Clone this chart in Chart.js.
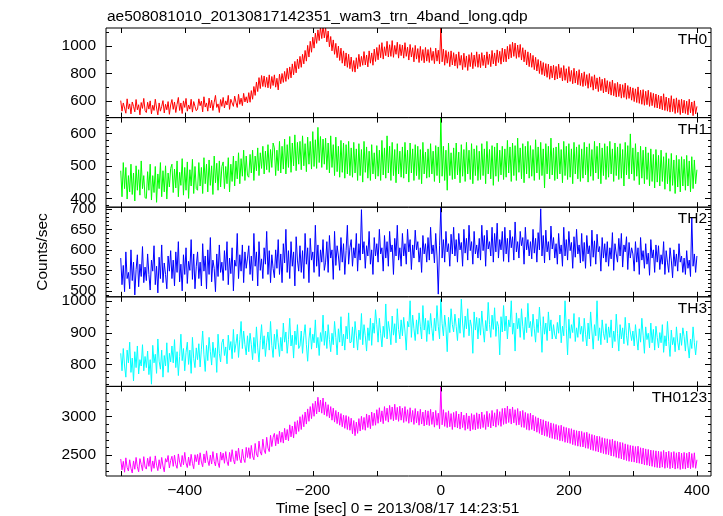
<!DOCTYPE html>
<html>
<head>
<meta charset="utf-8">
<script src="https://cdn.jsdelivr.net/npm/chart.js@4.4.1/dist/chart.umd.min.js"></script>
<style>
  html, body { margin: 0; padding: 0; background: #fff; }
  canvas { display: block; }
</style>
</head>
<body>
<canvas id="curva-luz" width="723" height="516"></canvas>
<script>
// curva de luz WAM, 4 bandas + soma, bins de 2 s
const TITULO   = "ae508081010_20130817142351_wam3_trn_4band_long.qdp";
const TITULO_X = "Time [sec] 0 = 2013/08/17 14:23:51";
const TITULO_Y = "Counts/sec";

const T_INICIO = -500;   // s
const T_PASSO  = 2;      // s

const th0 = [
  602, 525, 585, 548, 510, 615, 540, 578, 505, 592, 560, 520, 610, 535, 572, 498, 588, 545, 618, 530,
  515, 590, 540, 600, 505, 568, 530, 612, 548, 498, 585, 525, 560, 602, 512, 575, 535, 595, 502, 570,
  610, 538, 592, 515, 575, 625, 530, 585, 508, 600, 552, 618, 525, 570, 540, 612, 518, 595, 560, 528,
  540, 615, 565, 598, 520, 630, 555, 585, 525, 620, 548, 605, 530, 590, 640, 552, 578, 515, 610, 560,
  625, 548, 600, 570, 640, 538, 612, 585, 560, 635, 590, 552, 648, 575, 620, 565, 655, 592, 630, 585,
  660, 590, 675, 612, 705, 640, 738, 668, 770, 690, 785, 705, 782, 700, 772, 695, 790, 690, 778, 712,
  790, 700, 765, 680, 795, 725, 800, 735, 815, 742, 838, 758, 848, 768, 870, 790, 888, 805, 905, 835,
  925, 845, 940, 870, 968, 890, 1005, 920, 1035, 955, 1065, 985, 1095, 1020, 1118, 1040, 1140, 1055, 1150, 1060,
  1135, 1030, 1110, 995, 1070, 965, 1045, 940, 1020, 915, 1000, 895, 985, 875, 965, 855, 950, 845, 940, 835,
  920, 815, 895, 810, 915, 835, 940, 850, 925, 860, 960, 862, 935, 848, 965, 875, 950, 860, 978, 888,
  990, 900, 1010, 915, 1025, 905, 995, 930, 1035, 920, 1010, 925, 1040, 918, 1005, 940, 1028, 912, 1012, 930,
  1008, 912, 1025, 925, 992, 898, 1012, 920, 988, 885, 1005, 905, 982, 880, 998, 895, 975, 878, 990, 890,
  975, 880, 988, 895, 962, 872, 985, 890, 970, 870, 1140, 885, 978, 860, 968, 875, 958, 850, 965, 862,
  952, 855, 940, 838, 958, 860, 932, 828, 948, 845, 928, 822, 938, 850, 952, 835, 935, 852, 958, 845,
  940, 842, 952, 858, 935, 840, 958, 865, 942, 850, 968, 870, 950, 855, 972, 880, 962, 868, 985, 885,
  978, 885, 998, 905, 1012, 915, 1028, 925, 1022, 910, 1008, 918, 1012, 898, 988, 885, 972, 862, 958, 850,
  948, 845, 932, 828, 918, 818, 902, 800, 892, 792, 880, 782, 872, 772, 868, 758, 855, 768, 860, 752,
  852, 760, 868, 768, 842, 745, 858, 750, 835, 732, 850, 742, 822, 725, 838, 730, 818, 718, 828, 712,
  802, 705, 812, 712, 792, 692, 800, 700, 778, 678, 790, 688, 768, 668, 775, 675, 758, 658, 765, 665,
  748, 650, 740, 642, 752, 638, 728, 628, 735, 632, 722, 620, 718, 625, 730, 612, 712, 618, 702, 605,
  695, 595, 688, 588, 702, 582, 678, 575, 682, 568, 670, 572, 678, 560, 662, 565, 655, 552, 650, 548,
  642, 542, 635, 535, 652, 530, 628, 525, 620, 518, 638, 522, 615, 508, 622, 515, 608, 500, 612, 512,
  605, 508, 598, 498, 612, 512, 592, 492, 600, 505, 560,
];

const th1 = [
  485, 405, 510, 430, 495, 398, 470, 420, 505, 412, 478, 392, 500, 425, 488, 410, 515, 430, 470, 402,
  400, 482, 425, 505, 395, 470, 418, 498, 388, 475, 430, 510, 405, 485, 420, 500, 398, 478, 435, 492,
  505, 418, 490, 432, 515, 405, 480, 440, 522, 410, 495, 425, 512, 400, 488, 438, 520, 415, 498, 430,
  425, 510, 438, 495, 415, 525, 445, 505, 420, 518, 440, 500, 412, 530, 448, 508, 425, 515, 435, 498,
  512, 430, 498, 445, 525, 420, 505, 452, 530, 438, 515, 460, 540, 445, 522, 468, 548, 455, 530, 470,
  465, 535, 478, 548, 455, 530, 485, 555, 470, 540, 492, 560, 475, 545, 488, 565, 480, 550, 495, 570,
  555, 470, 548, 485, 575, 478, 560, 490, 582, 475, 565, 495, 590, 480, 570, 500, 595, 485, 572, 505,
  575, 488, 592, 500, 568, 482, 588, 505, 575, 490, 605, 498, 580, 492, 618, 510, 590, 495, 582, 505,
  585, 488, 570, 478, 592, 495, 565, 470, 588, 482, 560, 465, 578, 480, 570, 462, 565, 475, 575, 470,
  555, 465, 572, 478, 552, 455, 568, 470, 550, 450, 575, 480, 558, 462, 545, 455, 565, 475, 540, 460,
  562, 468, 548, 455, 578, 472, 555, 462, 592, 478, 560, 455, 572, 470, 550, 448, 568, 475, 545, 465,
  558, 462, 572, 475, 548, 450, 570, 478, 552, 455, 565, 470, 560, 458, 550, 445, 572, 475, 542, 462,
  552, 465, 568, 475, 545, 452, 562, 470, 558, 448, 650, 468, 560, 455, 548, 425, 570, 470, 540, 458,
  555, 460, 570, 472, 542, 448, 565, 468, 550, 452, 572, 475, 548, 458, 568, 445, 552, 470, 562, 455,
  545, 458, 568, 470, 552, 445, 575, 475, 550, 460, 562, 440, 558, 468, 570, 452, 548, 472, 560, 458,
  552, 465, 578, 478, 558, 452, 570, 470, 562, 455, 585, 480, 555, 460, 568, 448, 560, 475, 575, 462,
  562, 468, 550, 455, 580, 478, 558, 458, 572, 470, 552, 432, 568, 475, 560, 460, 585, 472, 555, 455,
  558, 460, 570, 475, 550, 448, 575, 470, 560, 458, 568, 465, 552, 445, 572, 475, 558, 460, 565, 452,
  552, 462, 572, 472, 558, 450, 568, 468, 550, 455, 575, 478, 560, 460, 570, 445, 555, 470, 568, 458,
  560, 465, 575, 475, 552, 452, 570, 470, 558, 458, 568, 462, 550, 438, 572, 472, 562, 460, 598, 475,
  555, 455, 568, 468, 542, 442, 560, 462, 548, 445, 558, 458, 540, 438, 552, 452, 535, 432, 550, 450,
  532, 438, 548, 452, 528, 428, 540, 445, 522, 422, 538, 440, 518, 415, 532, 435, 520, 420, 528, 438,
  520, 425, 532, 438, 515, 420, 528, 430, 518, 445, 488,
];

const th2 = [
  580, 515, 562, 498, 595, 530, 545, 505, 600, 525, 570, 490, 552, 588, 510, 565, 535, 608, 520, 558,
  525, 590, 540, 502, 575, 548, 610, 515, 560, 495, 582, 530, 612, 520, 568, 540, 505, 585, 548, 598,
  530, 575, 512, 595, 545, 620, 522, 565, 500, 588, 540, 605, 518, 572, 550, 625, 528, 590, 505, 560,
  595, 530, 570, 512, 615, 548, 585, 505, 600, 540, 630, 522, 575, 555, 498, 590, 535, 612, 545, 570,
  525, 598, 550, 620, 515, 580, 542, 605, 500, 575, 560, 640, 530, 588, 548, 612, 520, 595, 555, 580,
  610, 540, 585, 525, 640, 560, 595, 512, 620, 550, 578, 530, 605, 565, 645, 540, 598, 520, 588, 555,
  532, 600, 555, 625, 540, 590, 520, 615, 568, 650, 545, 598, 530, 620, 560, 595, 512, 632, 575, 548,
  610, 545, 598, 530, 640, 565, 605, 520, 628, 575, 595, 545, 660, 560, 612, 535, 600, 570, 625, 550,
  570, 620, 545, 635, 580, 600, 528, 645, 562, 610, 585, 550, 630, 570, 615, 540, 598, 660, 565, 605,
  625, 560, 605, 580, 640, 548, 615, 575, 698, 590, 620, 555, 610, 585, 645, 565, 600, 540, 630, 585,
  615, 570, 650, 590, 605, 548, 635, 580, 620, 560, 645, 595, 612, 540, 628, 585, 660, 575, 605, 560,
  640, 585, 615, 565, 650, 595, 625, 552, 612, 580, 648, 600, 620, 570, 605, 545, 635, 590, 615, 570,
  630, 575, 655, 590, 612, 568, 640, 585, 492, 610, 705, 580, 625, 570, 645, 595, 615, 560, 638, 590,
  655, 585, 625, 570, 640, 600, 618, 560, 650, 592, 628, 575, 660, 598, 620, 565, 645, 590, 612, 580,
  628, 575, 660, 598, 635, 560, 648, 602, 620, 585, 655, 570, 640, 595, 665, 580, 625, 600, 645, 572,
  655, 590, 628, 570, 648, 605, 632, 575, 668, 595, 620, 580, 645, 610, 630, 565, 655, 600, 625, 585,
  620, 578, 650, 592, 628, 570, 642, 600, 700, 585, 635, 568, 648, 595, 620, 575, 658, 602, 630, 580,
  615, 565, 640, 590, 612, 560, 655, 585, 625, 575, 645, 598, 618, 555, 632, 582, 650, 590, 612, 568,
  640, 572, 618, 555, 635, 590, 610, 560, 648, 582, 622, 565, 638, 595, 608, 548, 630, 580, 615, 570,
  620, 560, 605, 578, 642, 550, 615, 590, 570, 628, 585, 640, 558, 612, 595, 632, 552, 618, 580, 605,
  590, 548, 620, 570, 605, 540, 630, 575, 598, 555, 615, 565, 592, 538, 625, 580, 600, 545, 612, 570,
  610, 552, 588, 565, 620, 540, 598, 570, 545, 605, 575, 532, 600, 560, 590, 548, 615, 570, 585, 545,
  580, 540, 598, 555, 575, 535, 680, 560, 590, 545, 585,
];

const th3 = [
  835, 780, 850, 795, 760, 845, 805, 870, 775, 820, 748, 840, 790, 858, 770, 815, 795, 862, 780, 825,
  790, 842, 768, 815, 738, 860, 805, 832, 772, 880, 810, 785, 845, 760, 828, 795, 868, 775, 835, 808,
  858, 805, 878, 790, 840, 765, 825, 895, 812, 850, 780, 838, 870, 800, 845, 772, 885, 818, 790, 852,
  815, 865, 792, 848, 905, 830, 778, 860, 812, 885, 840, 798, 870, 822, 852, 775, 895, 835, 808, 868,
  880, 828, 855, 802, 892, 845, 872, 818, 910, 838, 865, 895, 822, 878, 935, 850, 905, 862, 830, 890,
  840, 898, 862, 815, 885, 835, 918, 852, 808, 875, 925, 848, 890, 825, 870, 902, 845, 935, 860, 822,
  895, 848, 910, 868, 825, 885, 842, 930, 870, 902, 835, 878, 945, 858, 892, 820, 905, 862, 925, 850,
  858, 905, 835, 890, 925, 862, 810, 880, 915, 848, 895, 868, 940, 852, 885, 828, 900, 872, 955, 860,
  905, 850, 925, 878, 840, 898, 862, 935, 885, 830, 912, 870, 950, 858, 895, 845, 920, 880, 962, 868,
  870, 918, 852, 935, 892, 845, 908, 878, 960, 862, 925, 890, 842, 915, 875, 945, 860, 930, 898, 972,
  925, 870, 945, 898, 855, 920, 885, 990, 880, 935, 905, 862, 952, 892, 928, 868, 975, 910, 880, 940,
  890, 948, 905, 845, 935, 918, 1000, 885, 955, 912, 875, 940, 895, 962, 920, 880, 985, 908, 945, 872,
  938, 895, 960, 912, 875, 945, 905, 985, 920, 880, 1005, 928, 890, 955, 915, 840, 948, 900, 975, 925,
  902, 958, 920, 875, 945, 898, 1005, 930, 885, 952, 912, 975, 890, 940, 918, 835, 965, 908, 948, 880,
  945, 892, 968, 915, 870, 938, 905, 995, 925, 885, 955, 910, 978, 888, 935, 920, 830, 950, 902, 985,
  905, 952, 880, 940, 918, 1000, 895, 930, 842, 962, 912, 945, 885, 975, 920, 878, 948, 900, 992, 915,
  935, 888, 958, 912, 870, 942, 900, 980, 918, 838, 950, 895, 930, 875, 965, 905, 940, 880, 925, 892,
  880, 932, 898, 955, 868, 920, 890, 1000, 912, 830, 942, 882, 925, 900, 960, 872, 915, 885, 948, 895,
  920, 872, 945, 895, 858, 930, 880, 965, 905, 848, 925, 890, 1000, 875, 915, 862, 940, 898, 878, 928,
  868, 918, 885, 940, 852, 905, 872, 958, 898, 842, 925, 880, 915, 865, 948, 890, 860, 930, 902, 875,
  905, 858, 925, 880, 845, 912, 870, 945, 892, 835, 918, 878, 898, 852, 930, 868, 910, 845, 920, 885,
  852, 900, 868, 925, 838, 890, 858, 935, 872, 825, 908, 862, 885, 840, 918, 870, 845, 898, 860, 915,
  888, 842, 905, 858, 820, 880, 850, 918, 868, 830, 875,
];

const th0123 = [
  2450, 2310, 2420, 2280, 2465, 2340, 2295, 2440, 2330, 2270, 2425, 2318, 2470, 2350, 2285, 2455, 2380, 2300, 2480, 2345,
  2320, 2460, 2355, 2480, 2290, 2425, 2330, 2490, 2370, 2300, 2440, 2325, 2470, 2360, 2285, 2455, 2410, 2495, 2335, 2430,
  2485, 2355, 2500, 2380, 2330, 2515, 2410, 2350, 2495, 2375, 2535, 2400, 2340, 2475, 2365, 2510, 2395, 2325, 2505, 2415,
  2510, 2375, 2530, 2410, 2350, 2515, 2400, 2555, 2430, 2365, 2500, 2385, 2545, 2420, 2360, 2525, 2405, 2340, 2540, 2435,
  2525, 2395, 2545, 2420, 2365, 2535, 2415, 2570, 2445, 2385, 2555, 2430, 2590, 2450, 2400, 2575, 2455, 2405, 2600, 2470,
  2595, 2455, 2625, 2490, 2440, 2650, 2515, 2475, 2680, 2540, 2500, 2705, 2565, 2520, 2730, 2590, 2545, 2755, 2610, 2730,
  2780, 2620, 2765, 2645, 2810, 2665, 2795, 2655, 2845, 2695, 2830, 2685, 2890, 2735, 2875, 2720, 2930, 2770, 2945, 2805,
  2995, 2830, 3020, 2865, 3055, 2900, 3095, 2935, 3125, 2970, 3165, 3000, 3195, 3030, 3245, 3055, 3210, 3040, 3235, 3020,
  3185, 3000, 3150, 2980, 3125, 2950, 3105, 2925, 3075, 2905, 3055, 2885, 3035, 2865, 3015, 2845, 3010, 2830, 2995, 2820,
  2975, 2775, 2945, 2750, 2925, 2780, 2970, 2810, 3000, 2830, 2985, 2820, 3030, 2855, 3015, 2840, 3055, 2880, 3040, 2885,
  3085, 2910, 3110, 2930, 3070, 2905, 3125, 2945, 3105, 2925, 3140, 2960, 3120, 2940, 3155, 2955, 3115, 2935, 3130, 2950,
  3105, 2920, 3125, 2935, 3085, 2910, 3110, 2925, 3075, 2895, 3100, 2915, 3065, 2885, 3090, 2900, 3055, 2875, 3080, 2890,
  3070, 2880, 3090, 2895, 3055, 2860, 3075, 2885, 3040, 2840, 3380, 2890, 3085, 2870, 3050, 2855, 3070, 2865, 3035, 2830,
  3050, 2860, 3065, 2850, 3030, 2835, 3055, 2855, 3015, 2820, 3040, 2840, 3005, 2810, 3035, 2830, 3020, 2825, 3045, 2840,
  3030, 2840, 3055, 2855, 3020, 2830, 3065, 2865, 3035, 2850, 3075, 2875, 3045, 2860, 3090, 2885, 3060, 2870, 3100, 2895,
  3105, 2905, 3130, 2920, 3095, 2900, 3120, 2915, 3085, 2885, 3100, 2890, 3065, 2860, 3075, 2855, 3050, 2830, 3035, 2820,
  3040, 2830, 3015, 2810, 2995, 2795, 2980, 2780, 2965, 2760, 2955, 2750, 2940, 2740, 2930, 2725, 2915, 2715, 2905, 2705,
  2895, 2700, 2880, 2685, 2885, 2680, 2865, 2665, 2855, 2660, 2845, 2650, 2840, 2635, 2825, 2625, 2815, 2615, 2810, 2610,
  2805, 2605, 2790, 2590, 2795, 2585, 2775, 2570, 2765, 2560, 2755, 2550, 2745, 2540, 2740, 2530, 2725, 2520, 2715, 2510,
  2710, 2505, 2700, 2490, 2705, 2485, 2685, 2470, 2675, 2460, 2665, 2450, 2660, 2440, 2645, 2430, 2635, 2420, 2625, 2415,
  2620, 2410, 2610, 2400, 2615, 2395, 2595, 2385, 2590, 2375, 2580, 2370, 2573, 2360, 2565, 2355, 2560, 2345, 2555, 2340,
  2550, 2335, 2545, 2345, 2560, 2330, 2540, 2340, 2550, 2325, 2535, 2335, 2545, 2320, 2530, 2330, 2540, 2315, 2525, 2325,
  2535, 2320, 2525, 2335, 2540, 2325, 2520, 2340, 2530, 2330, 2440,
];

const FONTE = "'Liberation Sans', Arial, Helvetica, sans-serif";
const TAM = 15.5;

// painéis de cima para baixo
const paineis = [
  { id: "y0", nome: "TH0",    dados: th0,    cor: "#ff0000", min: 478,   max: 1132,   passo: 200, menor: 100 },
  { id: "y1", nome: "TH1",    dados: th1,    cor: "#00ff00", min: 373,   max: 648,    passo: 100, menor: 20 },
  { id: "y2", nome: "TH2",    dados: th2,    cor: "#0000ff", min: 485.5, max: 704,    passo: 50,  menor: 10 },
  { id: "y3", nome: "TH3",    dados: th3,    cor: "#00ffff", min: 731,   max: 1012.5, passo: 100, menor: 20 },
  { id: "y4", nome: "TH0123", dados: th0123, cor: "#ff00ff", min: 2231,  max: 3385,   passo: 500, menor: 100 },
];

const X_MIN = -523, X_MAX = 422, X_MARCA = 100, X_ROTULO = 200;

const menos = (v) => String(v).replace("-", "\u2212");

function multiplos(min, max, passo) {
  const out = [];
  for (let v = Math.ceil(min / passo) * passo; v <= max; v += passo) out.push(v);
  return out;
}

const escalas = {
  x: {
    type: "linear", position: "bottom", min: X_MIN, max: X_MAX,
    grid: { display: false, drawTicks: false }, border: { display: false },
    ticks: { autoSkip: false, maxRotation: 0, padding: 5,
             color: "#000", font: { family: FONTE, size: TAM }, callback: (v) => menos(v) },
    afterBuildTicks: (s) => { s.ticks = multiplos(X_MIN, X_MAX, X_ROTULO).map((value) => ({ value })); },
    afterFit: (s) => { s.height = 40; },
  },
};
// o layout empilha o último eixo declarado no topo
[...paineis].reverse().forEach((p) => {
  escalas[p.id] = {
    type: "linear", position: "left", stack: "paineis", stackWeight: 1, offset: false,
    min: p.min, max: p.max,
    grid: { display: false, drawTicks: false }, border: { display: false },
    ticks: { autoSkip: false, padding: 10,
             color: "#000", font: { family: FONTE, size: TAM }, callback: (v) => menos(v) },
    afterBuildTicks: (s) => { s.ticks = multiplos(p.min, p.max, p.passo).map((value) => ({ value })); },
    afterFit: (s) => { s.width = 106; },
  };
});

const molduras = {
  id: "molduras",
  afterDatasetsDraw(chart) {
    const { ctx } = chart;
    const xs = chart.scales.x;
    const l = xs.left, r = xs.right;
    ctx.save();
    ctx.strokeStyle = "#000";
    ctx.lineWidth = 1;
    ctx.beginPath();
    paineis.forEach((p) => {
      const ys = chart.scales[p.id];
      const t = ys.top, b = ys.bottom;
      ctx.moveTo(l, t); ctx.lineTo(r, t); ctx.lineTo(r, b); ctx.lineTo(l, b); ctx.closePath();
      multiplos(X_MIN, X_MAX, X_MARCA).forEach((v) => {
        const px = Math.round(xs.getPixelForValue(v)) + 0.5;
        ctx.moveTo(px, t); ctx.lineTo(px, t + 5);
        ctx.moveTo(px, b); ctx.lineTo(px, b - 5);
      });
      multiplos(p.min, p.max, p.menor).forEach((v) => {
        const py = Math.round(ys.getPixelForValue(v)) + 0.5;
        const len = v % p.passo === 0 ? 6 : 3;
        ctx.moveTo(l, py); ctx.lineTo(l + len, py);
        ctx.moveTo(r, py); ctx.lineTo(r - len, py);
      });
    });
    ctx.stroke();

    ctx.fillStyle = "#000";
    ctx.font = `${TAM}px ${FONTE}`;
    ctx.textBaseline = "alphabetic";
    ctx.textAlign = "right";
    paineis.forEach((p) => ctx.fillText(p.nome, r - 4, chart.scales[p.id].top + 16));
    ctx.textAlign = "left";
    ctx.fillText(TITULO, l + 1, 20.5);
    ctx.textAlign = "center";
    ctx.fillText(TITULO_X, 397.5, 513);
    const meio = (chart.scales[paineis[0].id].top + chart.scales[paineis[4].id].bottom) / 2;
    ctx.translate(47, meio);
    ctx.rotate(-Math.PI / 2);
    ctx.fillText(TITULO_Y, 0, 0);
    ctx.restore();
  },
};

new Chart(document.getElementById("curva-luz"), {
  type: "line",
  data: {
    datasets: paineis.map((p) => ({
      label: p.nome,
      yAxisID: p.id,
      data: p.dados.map((v, i) => ({ x: T_INICIO + i * T_PASSO, y: v })),
      borderColor: p.cor,
      borderWidth: 1,
      pointRadius: 0,
      tension: 0,
      fill: false,
    })),
  },
  options: {
    responsive: false,
    animation: false,
    devicePixelRatio: 1,
    events: [],
    layout: { padding: { top: 28, right: 12, left: 0, bottom: 0 } },
    scales: escalas,
    plugins: { legend: { display: false }, tooltip: { enabled: false } },
  },
  plugins: [molduras],
});
</script>
</body>
</html>
